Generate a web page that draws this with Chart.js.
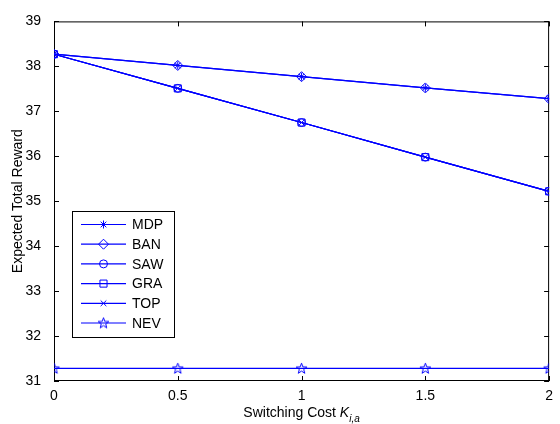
<!DOCTYPE html>
<html>
<head>
<meta charset="utf-8">
<script src="https://cdn.jsdelivr.net/npm/chart.js@4.4.0/dist/chart.umd.min.js"></script>
<style>
  html, body { margin: 0; padding: 0; background: #fff; }
</style>
</head>
<body>
<canvas id="chart" width="560" height="424"></canvas>
<script>
// datos
const costs  = [0, 0.5, 1, 1.5, 2];
const mdpVals = [38.27, 38.02, 37.77, 37.52, 37.28];
const banVals = [38.27, 38.02, 37.77, 37.52, 37.28];
const sawVals = [38.27, 37.51, 36.75, 35.98, 35.22];
const graVals = [38.27, 37.51, 36.75, 35.98, 35.22];
const topVals = [38.27, 37.51, 36.75, 35.98, 35.22];
const nevVals = [31.28, 31.28, 31.28, 31.28, 31.28];
const seriesNames = ['MDP', 'BAN', 'SAW', 'GRA', 'TOP', 'NEV'];
const xTicks = [0, 0.5, 1, 1.5, 2];
const yTicks = [31, 32, 33, 34, 35, 36, 37, 38, 39];

const AZUL = '#0000FF';
const FONT = '"Liberation Sans", Arial, Helvetica, sans-serif';

// estrella de 5 puntas (pentagram) como imagen
function makePentagram() {
  const c = document.createElement('canvas');
  c.width = 13; c.height = 13;
  const g = c.getContext('2d');
  g.strokeStyle = AZUL;
  g.lineWidth = 1;
  g.beginPath();
  for (let i = 0; i < 10; i++) {
    const r = i % 2 === 0 ? 5.6 : 2.3;
    const a = -Math.PI / 2 + i * Math.PI / 5;
    const px = 6.5 + r * Math.cos(a), py = 6.8 + r * Math.sin(a);
    if (i === 0) g.moveTo(px, py); else g.lineTo(px, py);
  }
  g.closePath();
  g.stroke();
  return c;
}
const pentagram = makePentagram();

const allVals = [mdpVals, banVals, sawVals, graVals, topVals, nevVals];
const styles  = ['star', 'rectRot', 'circle', 'rect', 'crossRot', pentagram];
const radii   = [4, 5, 4, 5, 4, 5];

const datasets = seriesNames.map((name, i) => ({
  label: name,
  data: costs.map((c, j) => ({ x: c, y: allVals[i][j] })),
  borderColor: AZUL,
  borderWidth: 1.2,
  pointStyle: styles[i],
  pointRadius: radii[i],
  pointBorderColor: AZUL,
  pointBackgroundColor: 'rgba(0,0,0,0)',
  pointBorderWidth: 1,
  fill: false,
  tension: 0
}));

// marco + ticks hacia adentro (estilo MATLAB)
const framePlugin = {
  id: 'frame',
  beforeDatasetsDraw(chart) {
    const { ctx, chartArea: a, scales: { x, y } } = chart;
    ctx.save();
    ctx.strokeStyle = '#000';
    ctx.lineWidth = 1;
    ctx.strokeRect(a.left + 0.5, a.top + 0.5, a.right - a.left - 1, a.bottom - a.top - 1);
    ctx.beginPath();
    xTicks.forEach(v => {
      const px = Math.round(x.getPixelForValue(v)) + 0.5;
      ctx.moveTo(px, a.bottom); ctx.lineTo(px, a.bottom - 5);
      ctx.moveTo(px, a.top); ctx.lineTo(px, a.top + 5);
    });
    yTicks.forEach(v => {
      const py = Math.round(y.getPixelForValue(v)) + 0.5;
      ctx.moveTo(a.left, py); ctx.lineTo(a.left + 5, py);
      ctx.moveTo(a.right, py); ctx.lineTo(a.right - 5, py);
    });
    ctx.stroke();
    ctx.restore();
  },
  afterDraw(chart) {
    const { ctx, chartArea: a } = chart;
    ctx.save();
    // titulo eje x con subindice
    const cx = (a.left + a.right) / 2;
    const t1 = 'Switching Cost ', t2 = 'K', t3 = 'i,a';
    ctx.fillStyle = '#000';
    ctx.textBaseline = 'alphabetic';
    ctx.font = '14px ' + FONT;
    const w1 = ctx.measureText(t1).width;
    ctx.font = 'italic 14px ' + FONT;
    const w2 = ctx.measureText(t2).width;
    ctx.font = 'italic 10px ' + FONT;
    const w3 = ctx.measureText(t3).width;
    let sx = cx - (w1 + w2 + w3) / 2;
    ctx.font = '14px ' + FONT;
    ctx.fillText(t1, sx, 417);
    ctx.font = 'italic 14px ' + FONT;
    ctx.fillText(t2, sx + w1, 417);
    ctx.font = 'italic 10px ' + FONT;
    ctx.fillText(t3, sx + w1 + w2, 422);

    // leyenda con linea + marcador
    const box = { left: 72, top: 211, right: 174, bottom: 337 };
    ctx.fillStyle = '#fff';
    ctx.fillRect(box.left, box.top, box.right - box.left, box.bottom - box.top);
    ctx.strokeStyle = '#000';
    ctx.lineWidth = 1;
    ctx.strokeRect(box.left + 0.5, box.top + 0.5, box.right - box.left, box.bottom - box.top);
    chart.data.datasets.forEach((ds, i) => {
      const ry = 224.5 + i * 19.7;
      ctx.strokeStyle = AZUL;
      ctx.lineWidth = 1.2;
      ctx.beginPath();
      ctx.moveTo(81, ry); ctx.lineTo(126, ry);
      ctx.stroke();
      ctx.lineWidth = 1;
      ctx.fillStyle = 'rgba(0,0,0,0)';
      Chart.helpers.drawPoint(ctx, {
        pointStyle: ds.pointStyle, radius: ds.pointRadius, borderWidth: 1, rotation: 0
      }, 103.5, ry);
      ctx.fillStyle = '#000';
      ctx.font = '14px ' + FONT;
      ctx.textBaseline = 'middle';
      ctx.fillText(ds.label, 132, ry + 1);
    });
    ctx.restore();
  }
};

new Chart(document.getElementById('chart'), {
  type: 'line',
  data: { datasets },
  options: {
    responsive: false,
    animation: false,
    layout: { padding: { left: 0, top: 13, right: 6, bottom: 0 } },
    plugins: {
      legend: { display: false },
      tooltip: { enabled: false }
    },
    scales: {
      x: {
        type: 'linear',
        min: 0, max: 2,
        afterFit: s => { s.height = 43; },
        afterBuildTicks: s => { s.ticks = xTicks.map(v => ({ value: v })); },
        grid: { display: false, drawTicks: false },
        border: { display: false },
        ticks: {
          color: '#000', padding: 7, font: { family: FONT, size: 14 },
          callback: v => String(v)
        }
      },
      y: {
        min: 31, max: 39,
        afterFit: s => { s.width = 54; },
        afterBuildTicks: s => { s.ticks = yTicks.map(v => ({ value: v })); },
        grid: { display: false, drawTicks: false },
        border: { display: false },
        ticks: {
          color: '#000', padding: 13, font: { family: FONT, size: 14 },
          callback: v => String(v)
        },
        title: {
          display: true,
          text: 'Expected Total Reward',
          color: '#000',
          padding: { top: 10 },
          font: { family: FONT, size: 14 }
        }
      }
    }
  },
  plugins: [framePlugin]
});
</script>
</body>
</html>
